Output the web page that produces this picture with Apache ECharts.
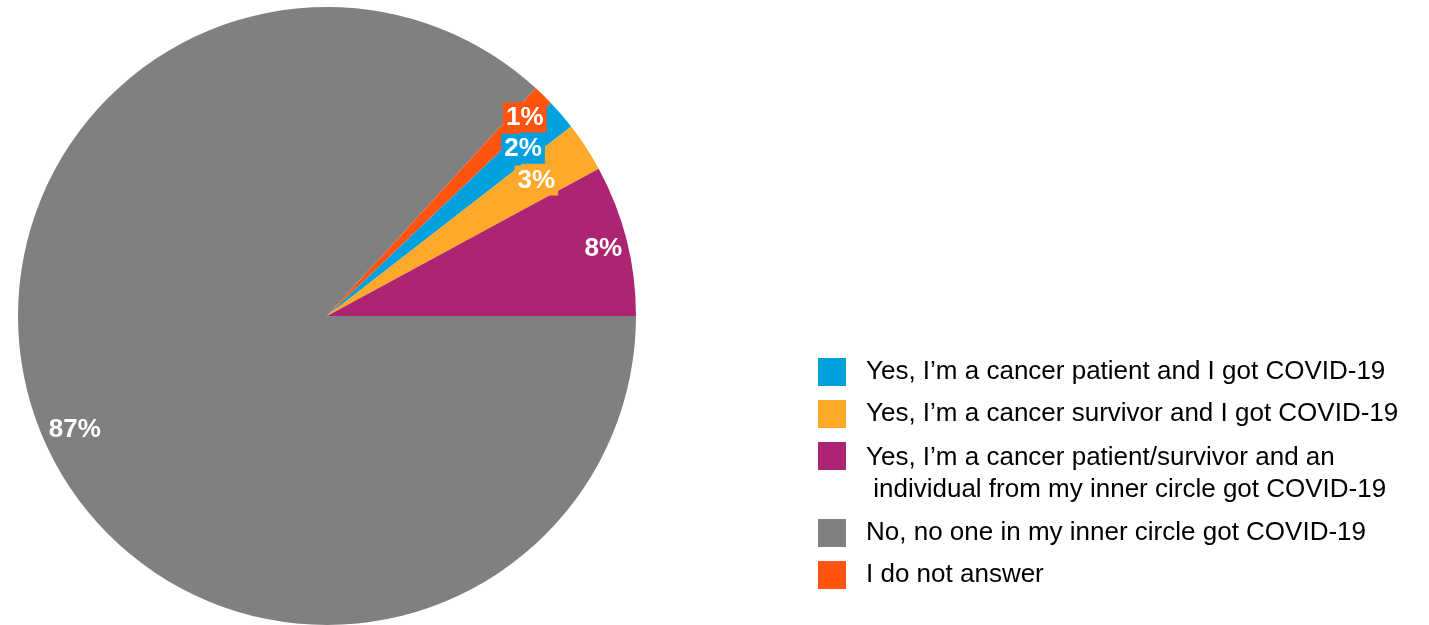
<!DOCTYPE html>
<html>
<head>
<meta charset="utf-8">
<script src="https://cdn.jsdelivr.net/npm/echarts@6/dist/echarts.min.js"></script>
<style>
html, body { margin: 0; padding: 0; background: #fff; }
#main { width: 1429px; height: 625px; }
</style>
</head>
<body>
<div id="main"></div>
<script>
// answers, in legend order
var names = [
    'Yes, I\u2019m a cancer patient and I got COVID-19',
    'Yes, I\u2019m a cancer survivor and I got COVID-19',
    'Yes, I\u2019m a cancer patient/survivor and an\n individual from my inner circle got COVID-19',
    'No, no one in my inner circle got COVID-19',
    'I do not answer'
];
var values = [1.6, 2.6, 7.9, 86.8, 1.1];
var colors = ['#00a1de', '#ffa82a', '#ac2472', '#808080', '#ff5310'];
// nudge for the crowded small labels
var labelOffsets = [[-17, 16], [-26, 18], [4, 2], [5, 1], [1, 2]];

var dom = document.getElementById('main');
var myChart = echarts.init(dom);

// the "No" slice starts at 3 o'clock, so the first slice starts this far up
var total = values.reduce(function (a, b) { return a + b; }, 0);
var startAngle = (values[0] + values[1] + values[2]) / total * 360;

var pieData = names.map(function (n, i) {
    return { name: n, value: values[i], itemStyle: { color: colors[i] } };
});
var labelData = names.map(function (n, i) {
    return {
        name: n,
        value: values[i],
        label: { offset: labelOffsets[i], backgroundColor: i === 3 ? 'transparent' : colors[i] }
    };
});

var legendText = {
    fontFamily: 'Liberation Sans, Arial, sans-serif',
    fontSize: 26,
    color: '#000',
    lineHeight: 28,
    padding: [0, 0, 0, 15]
};
function makeLegend(top, items, extra) {
    var l = {
        orient: 'vertical',
        left: 818,
        top: top,
        padding: 0,
        itemWidth: 28,
        itemHeight: 28,
        itemGap: 14,
        icon: 'rect',
        selectedMode: false,
        itemStyle: { borderWidth: 0 },
        textStyle: legendText,
        data: items
    };
    return Object.assign(l, extra || {});
}

var option = {
    animation: false,
    legend: [
        makeLegend(358, [names[0], names[1]]),
        // two-line entry: swatch sits on the first line
        makeLegend(442, [{ name: names[2], icon: 'path://M0,0h28v28h-28z M0,64h28' }], {
            itemHeight: 64,
            textStyle: Object.assign({}, legendText, { lineHeight: 32 })
        }),
        makeLegend(519, [names[3], names[4]])
    ],
    series: [
        {
            name: 'answers',
            type: 'pie',
            center: [327, 316],
            radius: [0, 309],
            startAngle: startAngle,
            clockwise: true,
            silent: true,
            label: { show: false },
            labelLine: { show: false },
            itemStyle: { borderWidth: 0 },
            data: pieData
        },
        {
            name: 'labels',
            type: 'pie',
            center: [327, 316],
            radius: [247, 309],
            startAngle: startAngle,
            clockwise: true,
            silent: true,
            itemStyle: { color: 'rgba(0,0,0,0)', borderWidth: 0 },
            labelLine: { show: false },
            label: {
                show: true,
                position: 'inside',
                color: '#fff',
                fontFamily: 'Liberation Sans, Arial, sans-serif',
                fontWeight: 'bold',
                fontSize: 26,
                lineHeight: 26,
                padding: [2, 3, 2, 3],
                formatter: function (p) {
                    return Math.round(p.value) + '%';
                }
            },
            data: labelData
        }
    ]
};
myChart.setOption(option);
</script>
</body>
</html>
